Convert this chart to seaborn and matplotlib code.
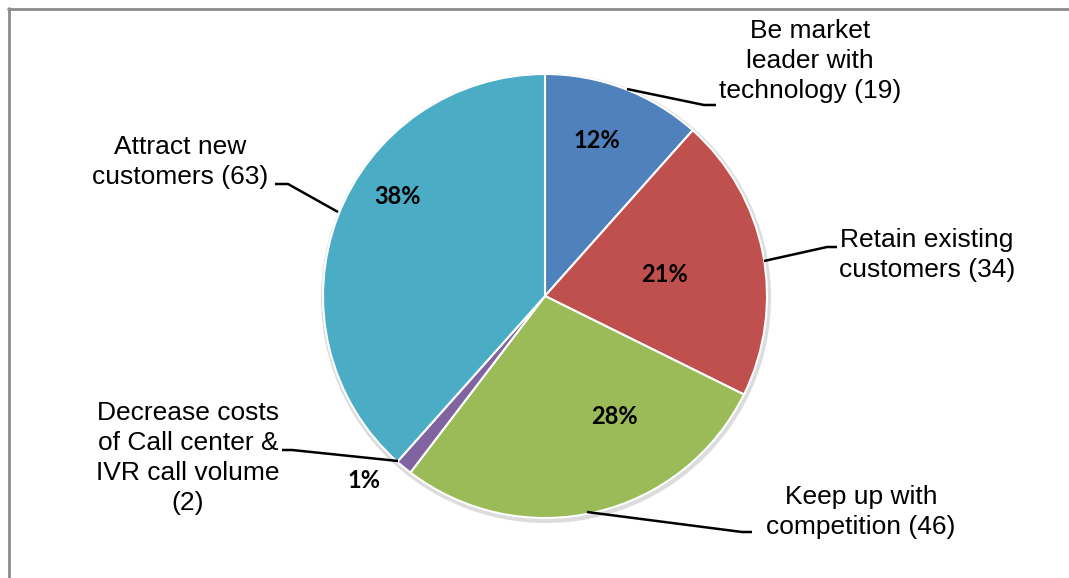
import matplotlib
matplotlib.use("Agg")
import matplotlib.pyplot as plt
from matplotlib.patches import Circle
import seaborn as sns

# Reasons for investing, number of respondents per reason
categories = [
    "Be market\nleader with\ntechnology",
    "Retain existing\ncustomers",
    "Keep up with\ncompetition",
    "Decrease costs\nof Call center &\nIVR call volume\n",
    "Attract new\ncustomers",
]
counts = [19, 34, 46, 2, 63]
colors = ["#4F81BD", "#C0504D", "#9BBB59", "#8064A2", "#4BACC6"]

W, H = 1069, 578
sns.set_theme(style="white")
plt.rcParams["font.family"] = ["Liberation Sans", "DejaVu Sans"]

fig = plt.figure(figsize=(W / 100, H / 100), dpi=100)
ax = fig.add_axes([0, 0, 1, 1])


def fy(y):
    """Convert a pixel row measured from the top into axis y."""
    return H - y


cx, cy, r = 545, 296, 222

# soft shadow under the pie
ax.add_patch(Circle((cx + 1, fy(cy) - 2), r + 3, facecolor="#dcdcdc",
                    edgecolor="none", zorder=0))

wedges, _ = ax.pie(
    counts,
    colors=sns.color_palette(colors),
    startangle=90,
    counterclock=False,
    center=(cx, fy(cy)),
    radius=r,
    wedgeprops=dict(edgecolor="white", linewidth=1.5),
    frame=True,
)
for w in wedges:
    w.set_zorder(1)

ax.set_xlim(0, W)
ax.set_ylim(0, H)
ax.set_aspect("equal")
ax.axis("off")

total = sum(counts)
pcts = [f"{round(100 * c / total)}%" for c in counts]

# percentage labels
pct_pos = [(597, 140), (664, 275), (614, 417), (364, 481), (398, 197)]
for (x, y), p in zip(pct_pos, pcts):
    ax.text(x, fy(y), p, ha="center", va="center", fontsize=17,
            fontweight="bold", family=["Lato", "DejaVu Sans"], color="black",
            zorder=5)

# category labels with leader lines
label_pos = [(810, 61), (927, 255), (861, 512), (188, 458), (180, 162)]
leaders = [
    [(627, 89), (704, 105), (716, 105)],
    [(764, 261), (827, 247), (837, 247)],
    [(587, 512), (742, 532), (752, 532)],
    [(398, 461), (292, 450), (282, 450)],
    [(338, 212), (288, 184), (275, 184)],
]
for (x, y), name, cnt, pts in zip(label_pos, categories, counts, leaders):
    if name.endswith("\n"):
        text = f"{name}({cnt})"
    else:
        text = f"{name} ({cnt})"
    ax.text(x, fy(y), text, ha="center", va="center", multialignment="center",
            fontsize=19, linespacing=1.32, color="black", zorder=5)
    ax.plot([p[0] for p in pts], [fy(p[1]) for p in pts], color="black",
            lw=1.8, solid_capstyle="butt", zorder=4)

# outer frame (top and left edges)
ax.plot([8, W], [fy(8.5), fy(8.5)], color="#8c8c8c", lw=2, zorder=6,
        clip_on=False)
ax.plot([8.5, 8.5], [fy(8), 0], color="#8c8c8c", lw=2, zorder=6,
        clip_on=False)

fig.savefig("out.png", dpi=100)
